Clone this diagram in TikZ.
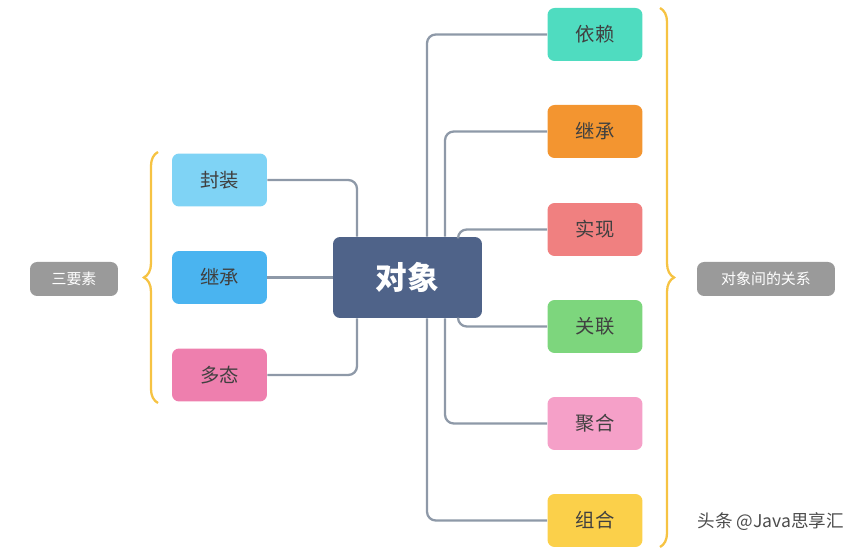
\documentclass[tikz,border=0pt]{standalone}
\usepackage{fontspec}
\setmainfont{Noto Sans CJK SC}
\usetikzlibrary{positioning,decorations.pathreplacing}
\definecolor{hub}{HTML}{4F6389}
\definecolor{wire}{HTML}{8E99A8}
\definecolor{brace}{HTML}{F6C343}
\definecolor{tagc}{HTML}{9A9A9A}
\tikzset{
  topic/.style={draw=none,rounded corners=4pt,minimum width=1.9cm,minimum height=1.06cm,font=\fontsize{11}{13}\selectfont,text=black!75},
  tag/.style={rounded corners=4pt,fill=tagc,text=white,minimum height=0.68cm,font=\fontsize{8.5}{10}\selectfont},
  link/.style={draw=wire,line width=1.3pt,rounded corners=5pt},
  curly/.style={draw=brace,line width=1.3pt,decorate,decoration={brace,amplitude=8pt}}
}
\begin{document}
\begin{tikzpicture}[x=0.02cm,y=-0.02cm]
\useasboundingbox (0,0) rectangle (862,553);

\node [rounded corners=4pt,fill=hub,text=white,minimum width=2.98cm,minimum height=1.62cm,font=\fontsize{18}{20}\selectfont\bfseries] (obj) at (407.5,277.5) {对象};

% left side
\node [topic,fill={rgb,255:red,127;green,211;blue,245}] (pack) at (219.5,180) {封装};
\node [topic,fill={rgb,255:red,74;green,180;blue,240}] (inhl) at (219.5,277.5) {继承};
\node [topic,fill={rgb,255:red,238;green,127;blue,174}] (poly) at (219.5,375) {多态};

\draw [link] (pack.east) -| (obj.north -| 357,0);
\draw [link] (inhl.east) -- (obj.west);
\draw [link] (poly.east) -| (obj.south -| 357,0);

\draw [curly] (158,403) -- (158,152);
\node [tag,minimum width=1.76cm] (three) at (74,279) {三要素};

% right side
\node [topic,fill={rgb,255:red,79;green,220;blue,192}] (dep) at (595,34.5) {依赖};
\node [topic,fill={rgb,255:red,243;green,149;blue,48}] (inhr) at (595,131.5) {继承};
\node [topic,fill={rgb,255:red,240;green,128;blue,128}] (impl) at (595,229.5) {实现};
\node [topic,fill={rgb,255:red,125;green,214;blue,125}] (assoc) at (595,326.5) {关联};
\node [topic,fill={rgb,255:red,245;green,160;blue,200}] (aggr) at (595,423.5) {聚合};
\node [topic,fill={rgb,255:red,251;green,208;blue,74}] (comp) at (595,520.5) {组合};

\draw [link] (obj.north -| 427,0) |- (dep.west);
\draw [link] (obj.north -| 445,0) |- (inhr.west);
\draw [link] (obj.north -| 458,0) |- (impl.west);
\draw [link] (obj.south -| 458,0) |- (assoc.west);
\draw [link] (obj.south -| 445,0) |- (aggr.west);
\draw [link] (obj.south -| 427,0) |- (comp.west);

\draw [curly] (660,8) -- (660,547);
\node [tag,minimum width=2.76cm] (rel) at (766,279) {对象间的关系};

\node [text=black!70,font=\fontsize{10}{12}\selectfont,anchor=east] (mark) at (850,522) {头条 @Java思享汇};
\end{tikzpicture}
\end{document}
